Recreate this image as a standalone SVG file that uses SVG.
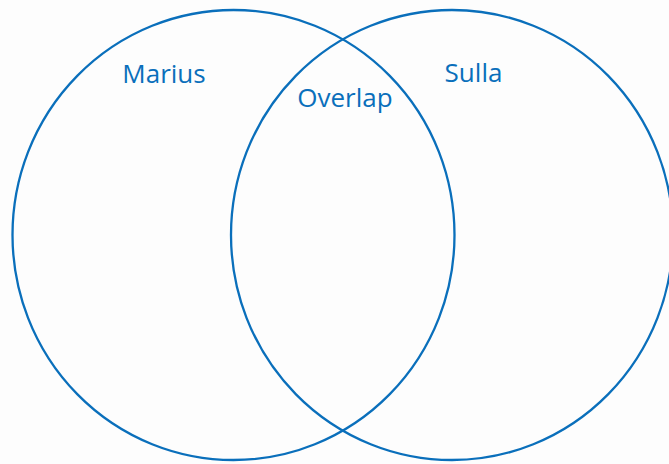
<svg xmlns="http://www.w3.org/2000/svg" width="669" height="464" viewBox="0 0 669 464">
<style>
.c{fill:none;stroke:#0a6fbb;stroke-width:2.3}
.t{font-family:"Open Sans","Liberation Sans",sans-serif;font-size:26px;fill:#0a6fbb;text-anchor:middle}
</style>
<rect width="669" height="464" fill="#fdfdfd"/>
<g id="marius">
<ellipse class="c" cx="233.5" cy="235" rx="221" ry="225"/>
<text class="t" x="164" y="83">Marius</text>
</g>
<g id="sulla">
<ellipse class="c" cx="452" cy="235" rx="221" ry="225"/>
<text class="t" x="473.5" y="82">Sulla</text>
</g>
<g id="overlap">
<text class="t" x="345" y="107">Overlap</text>
</g>
<g id="connectors"></g>
</svg>
